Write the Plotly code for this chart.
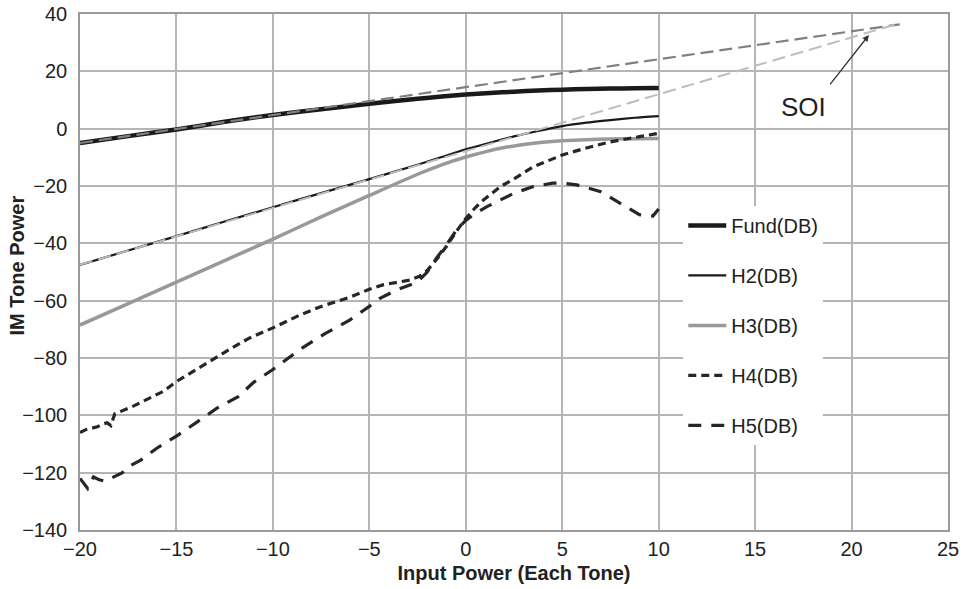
import plotly.graph_objects as go

# ---------------- data ----------------
fund_x = [-20, -17.5, -15, -12.5, -10, -7.5, -5, -2.5, -1.25, 0, 1.25, 2.5, 3.75, 5, 6.25, 7.5, 8.75, 10]
fund_y = [-5.0, -2.6, -0.3, 2.4, 4.8, 6.8, 8.7, 10.4, 11.2, 11.9, 12.45, 12.9, 13.3, 13.6, 13.85, 14.0, 14.1, 14.2]

h2_x = [-20, -17.5, -15, -12.5, -10, -7.5, -5, -2.5, -1.25, 0, 1.25, 2.5, 3.75, 5, 6.25, 7.5, 8.75, 10]
h2_y = [-47.5, -42.5, -37.5, -32.4, -27.4, -22.5, -17.6, -12.6, -9.9, -7.2, -4.9, -2.7, -0.8, 0.9, 2.1, 3.0, 3.8, 4.4]

h3_x = [-20, -17.5, -15, -12.5, -10, -7.5, -5, -2.5, -1.25, 0, 1, 2, 3, 4, 5, 6.25, 7.5, 8.75, 10]
h3_y = [-68.5, -61.0, -53.5, -46.0, -38.5, -30.8, -23.3, -15.9, -12.6, -9.9, -8.1, -6.6, -5.5, -4.7, -4.2, -3.85, -3.6, -3.5, -3.4]

h4_x = [-20, -19.7, -19.4, -19.1, -18.8, -18.6, -18.4, -18.2, -17.3, -16.6, -15.7, -15.0,
        -13.5, -12.0, -11.2, -10.0, -8.6, -7.5, -6.0, -5.0, -4.3, -3.5, -2.9, -2.4, -2.0,
        -1.5, -1.0, -0.5, 0.0, 0.5, 0.9, 1.8, 2.5, 3.5, 5.0, 6.0, 7.5, 9.0, 10.0]
h4_y = [-106, -105, -104.5, -104, -103, -102.6, -103.6, -99.5, -97, -94.6, -91.7, -88.2,
        -82, -76, -73, -69.5, -65, -62, -58.8, -56, -54.5, -53.5, -52.8, -51.5, -49.5,
        -45.5, -41, -36, -31.3, -27.5, -25, -20.2, -17.5, -13.3, -9.2, -7.2, -4.6, -2.8, -1.6]

h5_x = [-20, -19.8, -19.6, -19.3, -19.0, -18.7, -18.4, -18.1, -17.8, -17.5, -16.85, -16.0,
        -14.9, -13.9, -12.9, -11.8, -11.0, -10, -8.6, -7.3, -6.0, -5.0, -4.4, -3.5, -2.5,
        -2.0, -1.5, -1.0, -0.5, 0, 0.5, 1.1, 2.0, 2.5, 3.5, 4.5, 5.0, 5.75, 7.0, 8.0, 9.0, 9.7, 10]
h5_y = [-122, -124, -125.5, -121.5, -122.5, -123, -122, -121, -120, -118, -115.6, -111.4,
        -106.8, -102.2, -97.5, -93.5, -88.5, -84, -77, -71.5, -66.7, -62, -59, -56, -53.5,
        -50, -45, -40.5, -35.5, -32, -29.5, -27.2, -24, -22.5, -20.2, -19, -19, -19.6, -22,
        -26, -30, -30.5, -28]

# extrapolation lines (fundamental slope ~1, H2 slope ~2) meeting at SOI
fund_ext_x = [-20, 22.5]
fund_ext_y = [-5.0, 36.4]
h2_ext_x = [-20, 22.3]
h2_ext_y = [-47.5, 36.4]

x_ticks = [-20, -15, -10, -5, 0, 5, 10, 15, 20, 25]
y_ticks = [-140, -120, -100, -80, -60, -40, -20, 0, 20, 40]

FONT = "Liberation Sans, Arial, Helvetica, sans-serif"

fig = go.Figure()

fig.add_trace(go.Scatter(x=fund_x, y=fund_y, mode="lines", name="Fund(DB)",
                         legendgroup="a", line=dict(color="#1a1a1a", width=4.5, shape="spline", smoothing=0.6)))
fig.add_trace(go.Scatter(x=h2_x, y=h2_y, mode="lines", name="H2(DB)",
                         legendgroup="b", line=dict(color="#1a1a1a", width=2.2, shape="spline", smoothing=0.6)))
fig.add_trace(go.Scatter(x=h3_x, y=h3_y, mode="lines", name="H3(DB)",
                         legendgroup="c", line=dict(color="#999999", width=3.5, shape="spline", smoothing=0.6)))
fig.add_trace(go.Scatter(x=h4_x, y=h4_y, mode="lines", name="H4(DB)",
                         legendgroup="d", line=dict(color="#262626", width=3.2, dash="8px,5px")))
fig.add_trace(go.Scatter(x=h5_x, y=h5_y, mode="lines", name="H5(DB)",
                         legendgroup="e", line=dict(color="#262626", width=3.2, dash="13px,10px")))
fig.add_trace(go.Scatter(x=fund_ext_x, y=fund_ext_y, mode="lines", showlegend=False,
                         hoverinfo="skip", line=dict(color="#808080", width=2.2, dash="13px,6px")))
fig.add_trace(go.Scatter(x=h2_ext_x, y=h2_ext_y, mode="lines", showlegend=False,
                         hoverinfo="skip", line=dict(color="#bdbdbd", width=2.0, dash="13px,6px")))

axis_common = dict(
    showgrid=True, gridcolor="#b5b5b5", gridwidth=1.5,
    showline=True, linecolor="#9a9a9a", linewidth=1.5, mirror=True,
    zeroline=False, ticks="", tickfont=dict(family=FONT, size=20, color="#222"),
)

fig.update_xaxes(range=[-20, 25], tickvals=x_ticks,
                 ticktext=[str(v).replace("-", "\u2212") for v in x_ticks],
                 title=dict(text="Input Power (Each Tone)", standoff=7,
                            font=dict(family=FONT, size=20, color="#222", weight="bold")),
                 automargin=False, **axis_common)
fig.update_yaxes(range=[-140, 40], tickvals=y_ticks,
                 ticktext=[str(v).replace("-", "\u2212") for v in y_ticks],
                 ticklabelstandoff=7,
                 automargin=False, **axis_common)

fig.add_annotation(x=-0.073, y=0.512, xref="paper", yref="paper", text="IM Tone Power",
                   textangle=-90, showarrow=False, xanchor="center", yanchor="middle",
                   font=dict(family=FONT, size=20, color="#222", weight="bold"))

fig.add_annotation(x=20.9, y=32.7, text="", showarrow=True, ax=-40, ay=51,
                   arrowhead=2, arrowsize=1, arrowwidth=1.3, arrowcolor="#333")
fig.add_annotation(x=17.53, y=7.6, text="SOI", showarrow=False,
                   xanchor="center", yanchor="middle",
                   font=dict(family=FONT, size=26, color="#222"))

fig.update_layout(
    width=964, height=589,
    margin=dict(l=80, r=16, t=14, b=59),
    paper_bgcolor="white", plot_bgcolor="white",
    showlegend=True,
    legend=dict(x=0.695, y=0.628, xanchor="left", yanchor="top",
                bgcolor="white", borderwidth=0, tracegroupgap=21, itemwidth=38,
                font=dict(family=FONT, size=20, color="#222")),
)

fig.write_html("out.html")
